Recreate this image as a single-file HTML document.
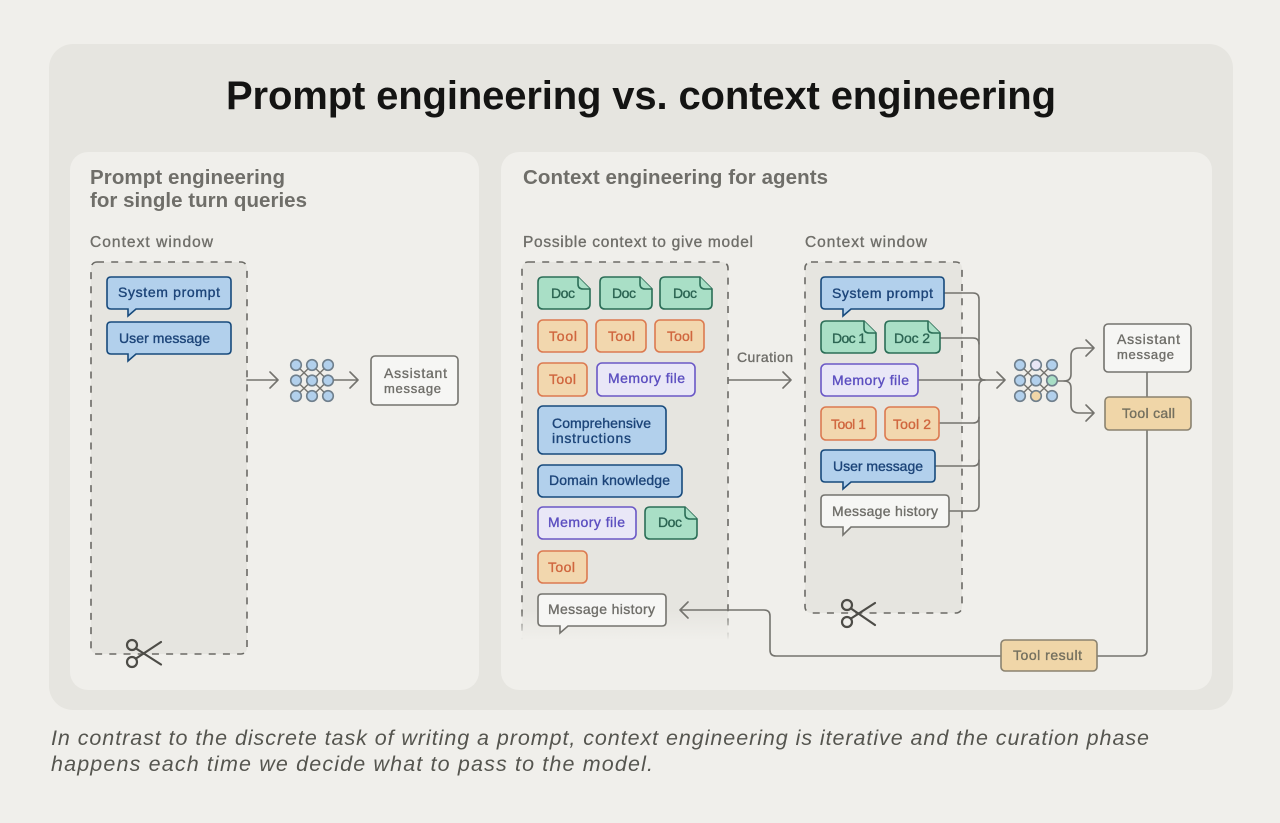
<!DOCTYPE html>
<html lang="en">
<head>
<meta charset="utf-8">
<title>Prompt engineering vs. context engineering</title>
<style>
html,body{margin:0;padding:0;background:#f0efeb;width:1280px;height:823px;overflow:hidden}
svg{display:block;filter:blur(.3px)}
text{font-family:"Liberation Sans",sans-serif}
.t{font-size:14px;stroke-width:.35px}
.blue{fill:#b2d0ec;stroke:#174a7c;stroke-width:1.6}
.tb{fill:#1c4478;stroke:#1c4478}
.green{fill:#a9dfc6;stroke:#2b6e57;stroke-width:1.6}
.tg{fill:#2b6452;stroke:#2b6452}
.orange{fill:#f2d7ae;stroke:#dc7a50;stroke-width:1.6}
.to{fill:#d0663e;stroke:#d0663e}
.purple{fill:#e9e7f7;stroke:#6a58c6;stroke-width:1.6}
.tp{fill:#5c4fc0;stroke:#5c4fc0}
.white{fill:#f6f6f4;stroke:#74736e;stroke-width:1.6}
.tw{fill:#6f6e69;stroke:#6f6e69}
.tan{fill:#f0d6a8;stroke:#8a826f;stroke-width:1.6}
.tt{fill:#74705f;stroke:#74705f}
.ln{fill:none;stroke:#74736e;stroke-width:1.6;stroke-linecap:round;stroke-linejoin:round}
.dash{fill:#e6e5e0;stroke:#6b6a65;stroke-width:1.6;stroke-dasharray:7 7.2}
.h{font-size:20.5px;font-weight:700;fill:#6f6e69}
.s{font-size:15.5px;fill:#6f6e69;stroke:#6f6e69;stroke-width:.35px}
.n{fill:#b2d0ec;stroke:#6f7f8c;stroke-width:1.6}
.sc{fill:none;stroke:#4d4c47;stroke-width:2.2;stroke-linecap:round}
.cap{font-size:21.5px;font-style:italic;fill:#55554f}
</style>
</head>
<body>
<svg width="1280" height="823" viewBox="0 0 1280 823" xmlns="http://www.w3.org/2000/svg">
<defs>
<linearGradient id="fadeMask" x1="0" y1="0" x2="0" y2="1">
<stop offset="0" stop-color="#f0efeb" stop-opacity="0"/><stop offset="1" stop-color="#f0efeb"/>
</linearGradient>
<g id="netlines" fill="none" stroke="#74736e" stroke-width="1.4">
<path d="M0 0L32 31M32 0L0 31M16 0L0 15.500L16 31L32 15.500Z"/>
</g>
</defs>

<rect width="1280" height="823" fill="#f0efeb"/>
<rect x="49" y="44" width="1184" height="666" rx="24" fill="#e6e5e0"/>
<rect x="70" y="152" width="409" height="538" rx="18" fill="#f0efeb"/>
<rect x="501" y="152" width="711" height="538" rx="18" fill="#f0efeb"/>

<text x="226" y="109" font-size="40" font-weight="700" fill="#141413" textLength="830">Prompt engineering vs. context engineering</text>

<text class="h" x="90" y="184" textLength="195">Prompt engineering</text>
<text class="h" x="90" y="207" textLength="217">for single turn queries</text>
<text class="h" x="523" y="184" textLength="305">Context engineering for agents</text>
<text class="s" x="90" y="247" textLength="123">Context window</text>
<text class="s" x="523" y="247" textLength="230">Possible context to give model</text>
<text class="s" x="805" y="247" textLength="122">Context window</text>

<!-- Left window -->
<rect class="dash" x="91" y="262" width="156" height="392" rx="6"/>
<path class="blue" d="M111 277H227Q231 277 231 281V305Q231 309 227 309H136L128 316V309H111Q107 309 107 305V281Q107 277 111 277Z"/>
<text class="t tb" x="118" y="297" textLength="102">System prompt</text>
<path class="blue" d="M111 322H227Q231 322 231 326V350Q231 354 227 354H136L128 361V354H111Q107 354 107 350V326Q107 322 111 322Z"/>
<text class="t tb" x="119" y="343" textLength="91">User message</text>
<path class="ln" d="M247 380H278M270 372L278 380L270 388"/>
<use href="#netlines" x="296" y="365"/>
<circle class="n" cx="296" cy="365" r="5.300"/><circle class="n" cx="312" cy="365" r="5.300"/><circle class="n" cx="328" cy="365" r="5.300"/>
<circle class="n" cx="296" cy="380.500" r="5.300"/><circle class="n" cx="312" cy="380.500" r="5.300"/><circle class="n" cx="328" cy="380.500" r="5.300"/>
<circle class="n" cx="296" cy="396" r="5.300"/><circle class="n" cx="312" cy="396" r="5.300"/><circle class="n" cx="328" cy="396" r="5.300"/>
<path class="ln" d="M334 380H358M350 372L358 380L350 388"/>
<rect class="white" x="371" y="356" width="87" height="49" rx="4"/>
<text class="t tw" x="384" y="378" textLength="63">Assistant</text>
<text class="t tw" x="384" y="393" font-size="13" style="font-size:13px" textLength="57">message</text>
<!-- left scissors -->
<g class="sc"><circle cx="132" cy="645" r="5"/><circle cx="132" cy="662" r="5"/><path d="M136 648.500L161 664.500M136 658.500L161 642"/></g>

<!-- Possible context -->
<rect class="dash" x="522" y="262" width="206" height="390" rx="6"/>
<rect x="515" y="610" width="220" height="30" fill="url(#fadeMask)"/>
<rect x="515" y="640" width="220" height="16" fill="#f0efeb"/>

<g transform="translate(538 277)"><path class="green" d="M5 0H40L52 12V27Q52 32 47 32H5Q0 32 0 27V5Q0 0 5 0Z"/><path class="green" d="M40 0V7Q40 12 45 12H52"/></g>
<text class="t tg" x="551" y="298" textLength="24">Doc</text>
<g transform="translate(600 277)"><path class="green" d="M5 0H40L52 12V27Q52 32 47 32H5Q0 32 0 27V5Q0 0 5 0Z"/><path class="green" d="M40 0V7Q40 12 45 12H52"/></g>
<text class="t tg" x="612" y="298" textLength="24">Doc</text>
<g transform="translate(660 277)"><path class="green" d="M5 0H40L52 12V27Q52 32 47 32H5Q0 32 0 27V5Q0 0 5 0Z"/><path class="green" d="M40 0V7Q40 12 45 12H52"/></g>
<text class="t tg" x="673" y="298" textLength="24">Doc</text>

<rect class="orange" x="538" y="320" width="49" height="32" rx="5"/><text class="t to" x="549" y="341" textLength="28">Tool</text>
<rect class="orange" x="596" y="320" width="50" height="32" rx="5"/><text class="t to" x="608" y="341" textLength="27">Tool</text>
<rect class="orange" x="655" y="320" width="49" height="32" rx="5"/><text class="t to" x="667" y="341" textLength="26">Tool</text>

<rect class="orange" x="538" y="363" width="49" height="33" rx="5"/><text class="t to" x="549" y="384" textLength="27">Tool</text>
<rect class="purple" x="597" y="363" width="98" height="33" rx="5"/><text class="t tp" x="608" y="383" textLength="77">Memory file</text>

<rect class="blue" x="538" y="406" width="128" height="48" rx="5"/>
<text class="t tb" x="552" y="428" textLength="99">Comprehensive</text>
<text class="t tb" x="552" y="443" textLength="79">instructions</text>

<rect class="blue" x="538" y="465" width="144" height="32" rx="5"/>
<text class="t tb" x="549" y="485" textLength="121">Domain knowledge</text>

<rect class="purple" x="538" y="507" width="98" height="32" rx="5"/>
<text class="t tp" x="548" y="527" textLength="77">Memory file</text>
<g transform="translate(645 507)"><path class="green" d="M5 0H40L52 12V27Q52 32 47 32H5Q0 32 0 27V5Q0 0 5 0Z"/><path class="green" d="M40 0V7Q40 12 45 12H52"/></g>
<text class="t tg" x="658" y="527" textLength="24">Doc</text>

<rect class="orange" x="538" y="551" width="49" height="32" rx="5"/>
<text class="t to" x="548" y="572" textLength="27">Tool</text>

<path class="white" d="M542 594H662Q666 594 666 598V622Q666 626 662 626H568L560 633V626H542Q538 626 538 622V598Q538 594 542 594Z"/>
<text class="t tw" x="548" y="614" textLength="107">Message history</text>

<!-- Curation -->
<text class="t tw" x="737" y="362" textLength="56">Curation</text>
<path class="ln" d="M728 380H791M783 372L791 380L783 388"/>

<!-- Right window -->
<rect class="dash" x="805" y="262" width="157" height="351" rx="6"/>

<!-- connectors -->
<path class="ln" d="M945 293H973Q979 293 979 299V374Q979 380 985 380"/>
<path class="ln" d="M940 338H973Q979 338 979 344"/>
<path class="ln" d="M918 380H1005M997 372L1005 380L997 388"/>
<path class="ln" d="M940 423H973Q979 423 979 417"/>
<path class="ln" d="M936 466H973Q979 466 979 460"/>
<path class="ln" d="M950 511H973Q979 511 979 505V386Q979 380 985 380"/>

<path class="blue" d="M825 277H940Q944 277 944 281V305Q944 309 940 309H851L843 316V309H825Q821 309 821 305V281Q821 277 825 277Z"/>
<text class="t tb" x="832" y="298" textLength="101">System prompt</text>

<g transform="translate(821 321)"><path class="green" d="M5 0H43L55 12V27Q55 32 50 32H5Q0 32 0 27V5Q0 0 5 0Z"/><path class="green" d="M43 0V7Q43 12 48 12H55"/></g>
<text class="t tg" x="832" y="343" textLength="34">Doc 1</text>
<g transform="translate(885 321)"><path class="green" d="M5 0H43L55 12V27Q55 32 50 32H5Q0 32 0 27V5Q0 0 5 0Z"/><path class="green" d="M43 0V7Q43 12 48 12H55"/></g>
<text class="t tg" x="894" y="343" textLength="36">Doc 2</text>

<rect class="purple" x="821" y="364" width="97" height="32" rx="5"/>
<text class="t tp" x="832" y="385" textLength="77">Memory file</text>

<rect class="orange" x="821" y="407" width="55" height="33" rx="5"/>
<text class="t to" x="831" y="429" textLength="35">Tool 1</text>
<rect class="orange" x="885" y="407" width="54" height="33" rx="5"/>
<text class="t to" x="893" y="429" textLength="38">Tool 2</text>

<path class="blue" d="M825 450H931Q935 450 935 454V478Q935 482 931 482H851L843 489V482H825Q821 482 821 478V454Q821 450 825 450Z"/>
<text class="t tb" x="833" y="471" textLength="90">User message</text>

<path class="white" d="M825 495H945Q949 495 949 499V523Q949 527 945 527H851L843 535V527H825Q821 527 821 523V499Q821 495 825 495Z"/>
<text class="t tw" x="832" y="516" textLength="106">Message history</text>

<!-- right scissors -->
<g class="sc"><circle cx="847" cy="605" r="5"/><circle cx="847" cy="622" r="5"/><path d="M851 608.500L875 625M851 618.500L875 603"/></g>

<!-- right network -->
<use href="#netlines" x="1020" y="365"/>
<circle class="n" cx="1020" cy="365" r="5.300"/><circle class="n" cx="1036" cy="365" r="5.300" style="fill:#e8e6f5"/><circle class="n" cx="1052" cy="365" r="5.300"/>
<circle class="n" cx="1020" cy="380.500" r="5.300"/><circle class="n" cx="1036" cy="380.500" r="5.300"/><circle class="n" cx="1052" cy="380.500" r="5.300" style="fill:#a9dfc6"/>
<circle class="n" cx="1020" cy="396" r="5.300"/><circle class="n" cx="1036" cy="396" r="5.300" style="fill:#f0d6a8"/><circle class="n" cx="1052" cy="396" r="5.300"/>

<path class="ln" d="M1058 381H1064Q1071 381 1071 374V356Q1071 348 1079 348H1094M1086 340L1094 348L1086 356"/>
<path class="ln" d="M1064 381Q1071 381 1071 388V405Q1071 413 1079 413H1094M1086 405L1094 413L1086 421"/>

<!-- Assistant / tool -->
<path class="ln" d="M1147 372V397"/>
<path class="ln" d="M1147 430V650Q1147 656 1141 656H1097"/>
<path class="ln" d="M1001 656H776Q770 656 770 650V616Q770 610 764 610H680M688 602L680 610L688 618"/>

<rect class="white" x="1104" y="324" width="87" height="48" rx="4"/>
<text class="t tw" x="1117" y="344" textLength="63">Assistant</text>
<text class="t tw" x="1117" y="359" style="font-size:13px" textLength="57">message</text>
<rect class="tan" x="1105" y="397" width="86" height="33" rx="4"/>
<text class="t tt" x="1122" y="418" textLength="53">Tool call</text>
<rect class="tan" x="1001" y="640" width="96" height="31" rx="4"/>
<text class="t tt" x="1013" y="660" textLength="69">Tool result</text>

<!-- Caption -->
<text class="cap" x="51" y="745" textLength="1098">In contrast to the discrete task of writing a prompt, context engineering is iterative and the curation phase</text>
<text class="cap" x="51" y="771" textLength="602">happens each time we decide what to pass to the model.</text>
</svg>
</body>
</html>
